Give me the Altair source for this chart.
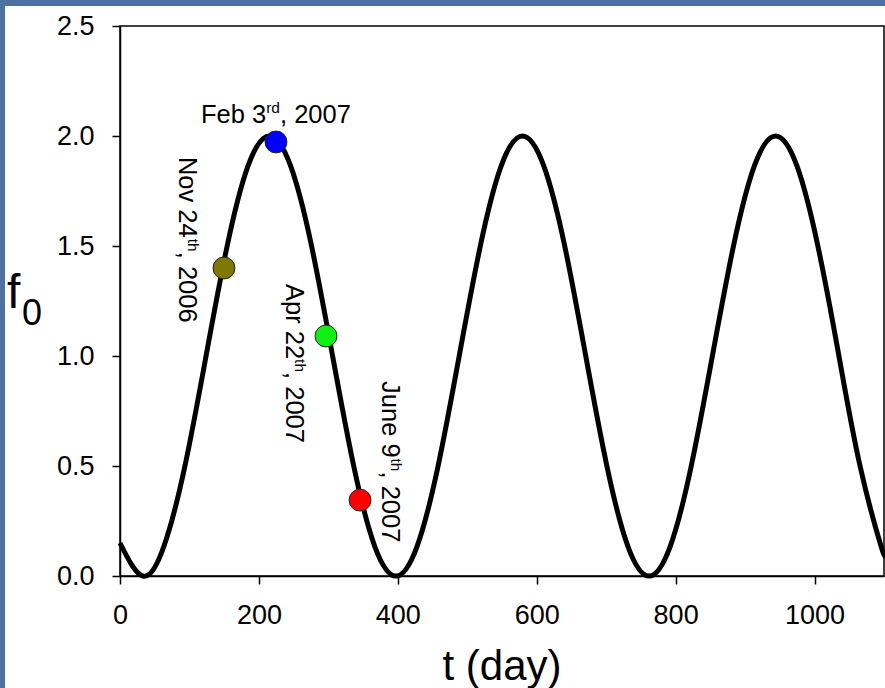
import altair as alt
import pandas as pd

# ---- data ----
curve_t = [0, 32.8, 63.1, 93.5, 123.9, 154.3, 184.6, 215.0, 245.4, 275.8, 306.1, 336.5,
           366.9, 397.3, 427.6, 458.0, 488.4, 518.8, 549.1, 579.5, 609.9, 640.3, 670.6,
           701.0, 731.4, 761.8, 792.1, 822.5, 852.9, 883.3, 913.6, 944.0, 974.4, 1004.8,
           1035.1, 1065.5, 1095.9, 1100]
curve_f = [0.15, 0.0, 0.134, 0.5, 1.0, 1.5, 1.866, 2.0, 1.866, 1.5, 1.0, 0.5,
           0.134, 0.0, 0.134, 0.5, 1.0, 1.5, 1.866, 2.0, 1.866, 1.5, 1.0,
           0.5, 0.134, 0.0, 0.134, 0.5, 1.0, 1.5, 1.866, 2.0, 1.866, 1.5,
           1.0, 0.5, 0.134, 0.11]

point_t = [149.7, 224.6, 296.6, 345.6]
point_f = [1.40, 1.973, 1.091, 0.345]
point_name = ["Nov", "Feb", "Apr", "Jun"]
point_color = ["#7f7800", "#0000ff", "#11ee11", "#ff0000"]

# annotation pieces: text, t, f, angle
main_text = ["Feb 3", ", 2007", "Nov 24", ", 2006", "Apr 22", ", 2007", "June 9", ", 2007"]
main_t = [116.6, 230.4, 84.5, 84.5, 238.6, 238.6, 376.8, 376.8]
main_f = [2.059, 2.059, 1.905, 1.474, 1.327, 0.927, 0.886, 0.475]
main_angle = [0, 0, 90, 90, 90, 90, 90, 90]

sup_text = ["rd", "th", "th", "th"]
sup_t = [210.5, 98.5, 252.5, 390.8]
sup_f = [2.105, 1.533, 0.986, 0.534]
sup_angle = [0, 90, 90, 90]

x_ticks = [0, 200, 400, 600, 800, 1000]
y_ticks = [0.0, 0.5, 1.0, 1.5, 2.0, 2.5]

FONT = "Liberation Sans"
W, H = 764, 550

curve_df = pd.DataFrame({"t": curve_t, "f": curve_f})
pts_df = pd.DataFrame({"t": point_t, "f": point_f, "name": point_name})
main_df = pd.DataFrame({"txt": main_text, "t": main_t, "f": main_f, "angle": main_angle})
sup_df = pd.DataFrame({"txt": sup_text, "t": sup_t, "f": sup_f, "angle": sup_angle})
one = pd.DataFrame({"k": [0]})

xs = alt.Scale(domain=[0, 1100], nice=False, zero=False)
ys = alt.Scale(domain=[0, 2.5], nice=False)

x_axis = alt.Axis(values=x_ticks, title=None, grid=False, format="d", labelFontSize=27,
                  labelFont=FONT, labelColor="black", tickSize=8, tickWidth=1.5,
                  tickColor="black", domainColor="black", domainWidth=1.5, labelPadding=18,
                  labelFlush=False, zindex=1)
y_axis = alt.Axis(values=y_ticks, title=None, grid=False, format=".1f", labelFontSize=27,
                  labelFont=FONT, labelColor="black", tickSize=8, tickWidth=1.5,
                  tickColor="black", domainColor="black", domainWidth=1.5, labelPadding=18,
                  zindex=1)

panel = alt.Chart(one).mark_rect(color="white").encode(
    x=alt.value(-115), x2=alt.value(W + 1), y=alt.value(-20), y2=alt.value(H + 112)
)
frame = alt.Chart(one).mark_rect(filled=False, stroke="black", strokeWidth=1.5).encode(
    x=alt.value(0), x2=alt.value(W), y=alt.value(0), y2=alt.value(H)
)

line = alt.Chart(curve_df).mark_line(color="black", strokeWidth=5, interpolate="natural").encode(
    x=alt.X("t:Q", scale=xs, axis=x_axis),
    y=alt.Y("f:Q", scale=ys, axis=y_axis),
)

pts = alt.Chart(pts_df).mark_point(filled=True, size=480, opacity=1, stroke="#222222",
                                   strokeWidth=1).encode(
    x=alt.X("t:Q", scale=xs),
    y=alt.Y("f:Q", scale=ys),
    fill=alt.Fill("name:N", scale=alt.Scale(domain=point_name, range=point_color), legend=None),
)

main_lbl = alt.Chart(main_df).mark_text(align="left", baseline="alphabetic", fontSize=25.5,
                                        font=FONT, color="black").encode(
    x=alt.X("t:Q", scale=xs), y=alt.Y("f:Q", scale=ys), text="txt:N",
    angle=alt.Angle("angle:Q", scale=None),
)
sup_lbl = alt.Chart(sup_df).mark_text(align="left", baseline="alphabetic", fontSize=15.5,
                                      font=FONT, color="black").encode(
    x=alt.X("t:Q", scale=xs), y=alt.Y("f:Q", scale=ys), text="txt:N",
    angle=alt.Angle("angle:Q", scale=None),
)

xtitle = alt.Chart(one).mark_text(text="t (day)", fontSize=42, font=FONT, color="black",
                                  align="center", baseline="alphabetic").encode(
    x=alt.value(W / 2), y=alt.value(654)
)
ytitle_f = alt.Chart(one).mark_text(text="f", fontSize=48, font=FONT, color="black",
                                    align="left", baseline="alphabetic").encode(
    x=alt.value(-113), y=alt.value(282)
)
ytitle_0 = alt.Chart(one).mark_text(text="0", fontSize=36, font=FONT, color="black",
                                    align="left", baseline="alphabetic").encode(
    x=alt.value(-98), y=alt.value(299)
)

chart = alt.layer(panel, frame, line, pts, main_lbl, sup_lbl, xtitle, ytitle_f, ytitle_0).properties(
    width=W, height=H,
    autosize=alt.AutoSizeParams(type="none"),
    padding={"left": 120, "top": 26, "right": 1, "bottom": 112},
    background="#4f719f",
).configure_view(
    stroke=None, fill="white"
)

chart.save("out.html", embed_options={"renderer": "svg", "actions": False})
